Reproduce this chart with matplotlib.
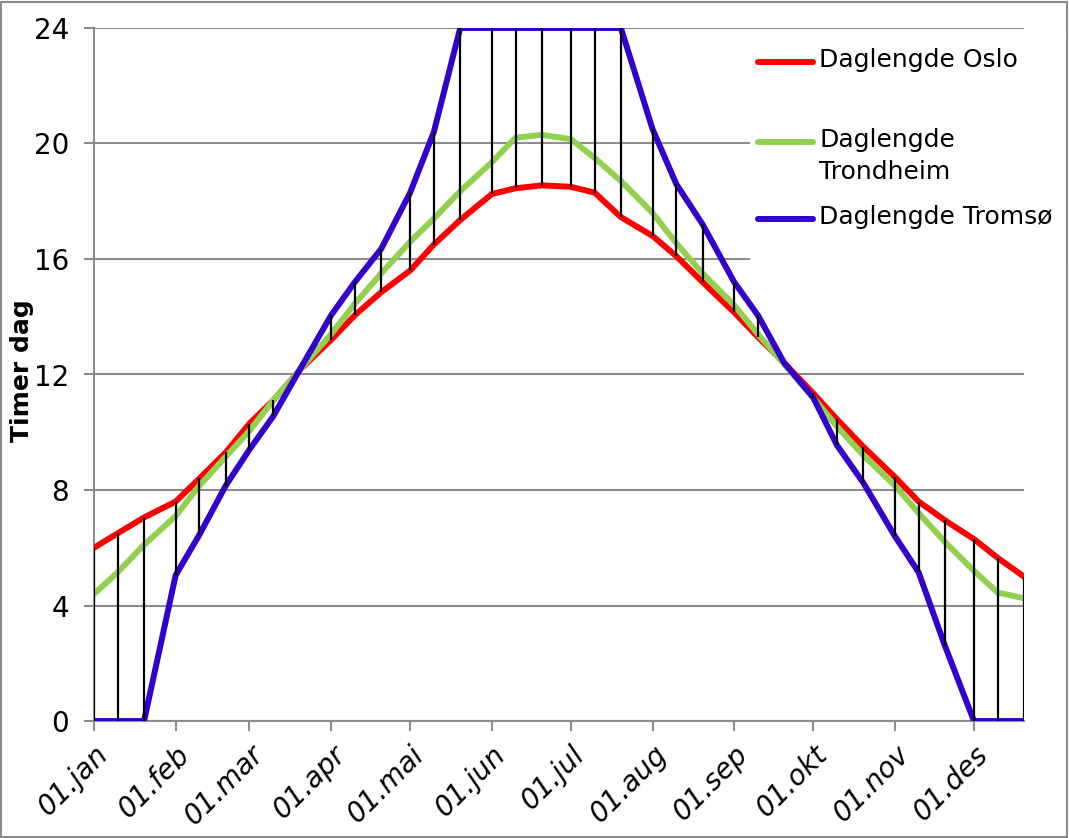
import datetime as dt
import matplotlib
matplotlib.use("Agg")
import matplotlib.pyplot as plt
import matplotlib.dates as mdates
from matplotlib.lines import Line2D
import numpy as np

# målepunkter: 1., 10. og 20. i hver måned
days_in_month = [1, 10, 20]
dates = [dt.date(2011, m, d) for m in range(1, 13) for d in days_in_month]

oslo = [6.0, 6.5, 7.05, 7.6, 8.4, 9.3, 10.3, 11.1, 12.15,
        13.2, 14.05, 14.85, 15.6, 16.5, 17.35, 18.25, 18.45, 18.55,
        18.5, 18.3, 17.45, 16.8, 16.1, 15.2, 14.15, 13.3, 12.4,
        11.35, 10.45, 9.5, 8.45, 7.6, 6.95, 6.3, 5.65, 5.0]
trondheim = [4.4, 5.15, 6.1, 7.1, 8.15, 9.15, 10.05, 11.1, 12.15,
             13.4, 14.45, 15.5, 16.6, 17.4, 18.35, 19.35, 20.2, 20.3,
             20.15, 19.5, 18.7, 17.6, 16.55, 15.5, 14.4, 13.4, 12.35,
             11.2, 10.2, 9.2, 8.15, 7.2, 6.2, 5.2, 4.45, 4.25]
tromso = [0.0, 0.0, 0.0, 5.05, 6.45, 8.15, 9.4, 10.55, 12.15,
          14.05, 15.2, 16.35, 18.3, 20.4, 24.0, 24.0, 24.0, 24.0,
          24.0, 24.0, 24.0, 20.5, 18.6, 17.2, 15.2, 14.05, 12.4,
          11.2, 9.55, 8.25, 6.4, 5.15, 2.6, 0.0, 0.0, 0.0]

month_labels = ["01.jan", "01.feb", "01.mar", "01.apr", "01.mai", "01.jun",
                "01.jul", "01.aug", "01.sep", "01.okt", "01.nov", "01.des"]

labels = ["Daglengde Oslo", "Daglengde\nTrondheim", "Daglengde Tromsø"]
colors = ["#ff0000", "#92d050", "#3300cc"]

x = mdates.date2num(dates)
series = np.array([oslo, trondheim, tromso])

W, H = 1069, 838
fig = plt.figure(figsize=(W / 100, H / 100), dpi=100)
ax = fig.add_axes([94 / W, 1 - 721 / H, (1024 - 94) / W, (721 - 28) / H])

grey = "#8c8c8c"
for vals, c in zip(series, colors):
    ax.plot(x, vals, color=c, lw=4.3, solid_capstyle="round", solid_joinstyle="round", zorder=3)

# høy-lav-linjer mellom største og minste verdi
ax.vlines(x, series.min(axis=0), series.max(axis=0), color="black", lw=1.6, zorder=4)

ax.set_xlim(x[0], x[-1])
ax.set_ylim(0, 24)
ax.set_yticks(range(0, 25, 4))
month_starts = mdates.date2num([dt.date(2011, m, 1) for m in range(1, 13)])
ax.set_xticks(month_starts)
ax.set_xticklabels(month_labels, rotation=45, ha="right", va="top", rotation_mode="anchor",
                   fontstyle="italic", fontsize=20)
ax.tick_params(axis="y", labelsize=20, length=7, width=1.5, color=grey, pad=11)
ax.tick_params(axis="x", length=7, width=1.5, color=grey, pad=7)
ax.yaxis.grid(True, color=grey, lw=1.5)
ax.set_axisbelow(True)
for s in ["top", "right"]:
    ax.spines[s].set_visible(False)
for s in ["left", "bottom"]:
    ax.spines[s].set_color(grey)
    ax.spines[s].set_linewidth(1.5)

ax.set_ylabel("Timer dag", fontsize=18, fontweight="bold")
ax.yaxis.set_label_coords(-0.0645, 0.505)

# tegnforklaring til høyre, med hvit bakgrunn over rutenettet
fig.patches.append(plt.Rectangle((750 / W, 1 - 265 / H), (1066 - 750) / W, (265 - 36) / H,
                                 transform=fig.transFigure, facecolor="white",
                                 edgecolor="none", zorder=5))
legend_y = [62, 142, 219]
for lab, c, yy in zip(labels, colors, legend_y):
    fy = 1 - yy / H
    fig.lines.append(Line2D([758 / W, 813 / W], [fy, fy], transform=fig.transFigure,
                            color=c, lw=4.3, solid_capstyle="round", zorder=6))
    fig.text(819 / W, 1 - (yy - 14) / H, lab, fontsize=18, va="top", ha="left",
             linespacing=1.4, zorder=6)

# ramme rundt hele figuren
fig.patches.append(plt.Rectangle((0.001, 0.001), 0.997, 0.997, transform=fig.transFigure,
                                 fill=False, edgecolor=grey, lw=1.5))

fig.savefig("out.png", dpi=100)
